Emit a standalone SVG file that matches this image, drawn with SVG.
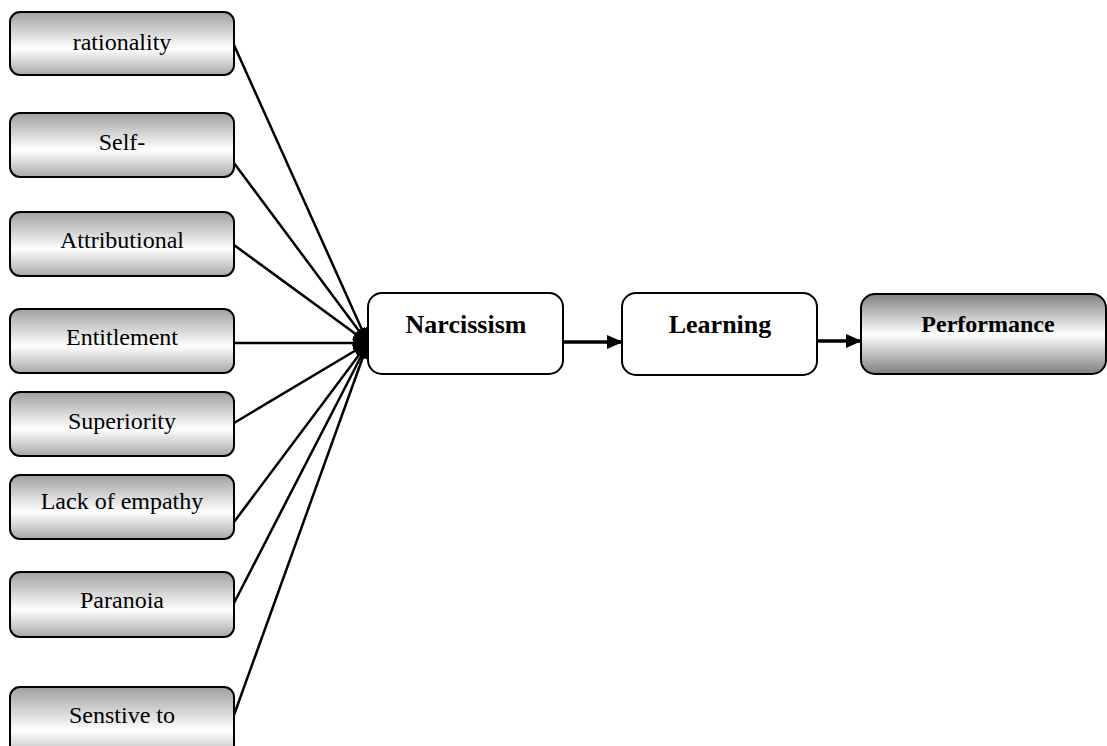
<svg xmlns="http://www.w3.org/2000/svg" width="1107" height="746" viewBox="0 0 1107 746">
<style>
.src{fill:url(#g1);stroke:#000;stroke-width:2}
.mid{fill:#fff;stroke:#000;stroke-width:2}
.perf{fill:url(#g2);stroke:#000;stroke-width:2}
.t{font-family:"Liberation Serif","Times New Roman",serif;font-size:24px;fill:#000;text-anchor:middle}
.b{font-family:"Liberation Serif","Times New Roman",serif;font-size:26px;font-weight:bold;fill:#000;text-anchor:middle}
.c{stroke:#000;stroke-width:2.5;fill:none;marker-end:url(#ah)}
.a{stroke:#000;stroke-width:3.5;fill:none;marker-end:url(#ah2)}
</style>
<defs>
<linearGradient id="g1" x1="0" y1="0" x2="0" y2="1">
<stop offset="0" stop-color="#a0a0a0"/>
<stop offset="0.58" stop-color="#ffffff"/>
<stop offset="1" stop-color="#a8a8a8"/>
</linearGradient>
<linearGradient id="g2" x1="0" y1="0" x2="0" y2="1">
<stop offset="0" stop-color="#808080"/>
<stop offset="0.5" stop-color="#ffffff"/>
<stop offset="1" stop-color="#808080"/>
</linearGradient>
<marker id="ah" markerWidth="16" markerHeight="14" refX="15" refY="7" orient="auto" markerUnits="userSpaceOnUse">
<path d="M0,0 L16,7 L0,14 Z" fill="#000"/>
</marker>
<marker id="ah2" markerWidth="16" markerHeight="14" refX="15" refY="7" orient="auto" markerUnits="userSpaceOnUse">
<path d="M0,0 L16,7 L0,14 Z" fill="#000"/>
</marker>
</defs>
<rect width="1107" height="746" fill="#fff"/>
<g id="connectors">
<line class="c" x1="234" y1="45" x2="368" y2="343"/>
<line class="c" x1="234" y1="163" x2="368" y2="343"/>
<line class="c" x1="234" y1="245" x2="368" y2="343"/>
<line class="c" x1="234" y1="343" x2="368" y2="343"/>
<line class="c" x1="234" y1="423" x2="368" y2="343"/>
<line class="c" x1="234" y1="522" x2="368" y2="343"/>
<line class="c" x1="234" y1="603" x2="368" y2="343"/>
<line class="c" x1="234" y1="715" x2="368" y2="343"/>
<line class="a" x1="563" y1="342" x2="622" y2="342"/>
<line class="a" x1="817" y1="341" x2="861" y2="341"/>
</g>
<g id="n-rationality"><rect class="src" x="10" y="12" width="224" height="63" rx="10"/><text class="t" x="122" y="50">rationality</text></g>
<g id="n-self"><rect class="src" x="10" y="113" width="224" height="64" rx="10"/><text class="t" x="122" y="150">Self-</text></g>
<g id="n-attributional"><rect class="src" x="10" y="212" width="224" height="64" rx="10"/><text class="t" x="122" y="248">Attributional</text></g>
<g id="n-entitlement"><rect class="src" x="10" y="309" width="224" height="64" rx="10"/><text class="t" x="122" y="345">Entitlement</text></g>
<g id="n-superiority"><rect class="src" x="10" y="392" width="224" height="64" rx="10"/><text class="t" x="122" y="429">Superiority</text></g>
<g id="n-lack"><rect class="src" x="10" y="475" width="224" height="64" rx="10"/><text class="t" x="122" y="509">Lack of empathy</text></g>
<g id="n-paranoia"><rect class="src" x="10" y="572" width="224" height="65" rx="10"/><text class="t" x="122" y="608">Paranoia</text></g>
<g id="n-senstive"><rect class="src" x="10" y="687" width="224" height="75" rx="10"/><text class="t" x="122" y="723">Senstive to</text></g>
<g id="n-narcissism"><rect class="mid" x="368" y="293" width="195" height="81" rx="14"/><text class="b" x="466" y="333">Narcissism</text></g>
<g id="n-learning"><rect class="mid" x="622" y="293" width="195" height="82" rx="14"/><text class="b" x="720" y="333">Learning</text></g>
<g id="n-performance"><rect class="perf" x="861" y="294" width="245" height="80" rx="14"/><text class="b" x="988" y="332" style="font-size:24px">Performance</text></g>
</svg>
